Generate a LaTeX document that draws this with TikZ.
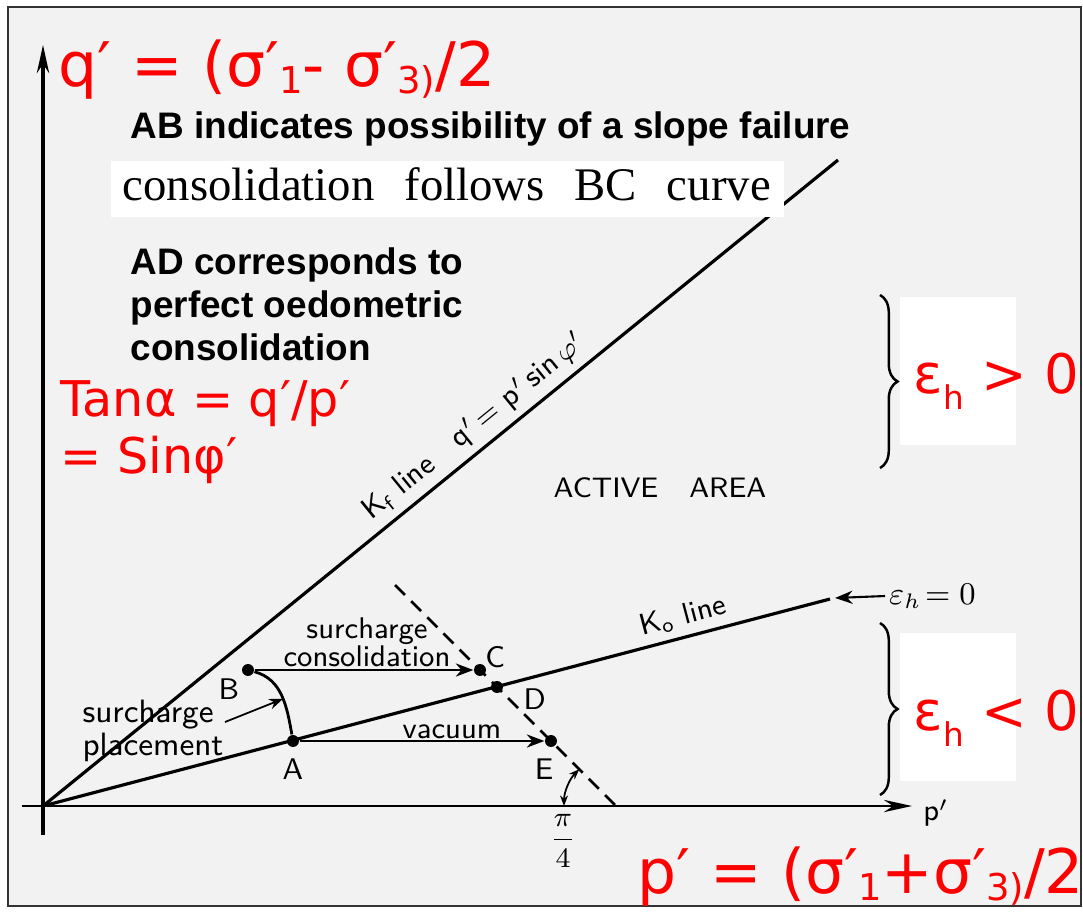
\documentclass[tikz,border=0pt]{standalone}
\usepackage{fontspec}
\usepackage{amsmath}
\newfontfamily\slidefont{Liberation Sans}
\newfontfamily\redfont{DejaVu Sans}
\newfontfamily\scanserif{Liberation Serif}
\usetikzlibrary{arrows.meta, positioning, calc, decorations.pathreplacing}
\newcommand{\dropsub}[2]{\raisebox{-#1}{\scalebox{0.6}{#2}}}

\begin{document}
\begin{tikzpicture}[
    hand/.style={font=\sffamily\fontsize{8.5}{8}\selectfont, inner sep=1pt},
    pt/.style={circle, fill, minimum size=3.4pt, inner sep=0pt},
    redbig/.style={text=red, font=\redfont\fontsize{17.5}{20}\selectfont, inner sep=0pt},
    redmid/.style={text=red, font=\redfont\fontsize{14}{16}\selectfont, inner sep=0pt},
    note/.style={font=\slidefont\bfseries\fontsize{10.5}{12.3}\selectfont, inner sep=0pt},
    blank/.style={fill=white, inner sep=0pt},
    axis/.style={line width=0.9pt, -{Stealth[length=8pt, width=3.5pt]}}
  ]
  \useasboundingbox (0,0) rectangle (10.83,9.11);
  \filldraw[fill=black!5, draw=black!80, line width=0.6pt] (0.08,0.05) rectangle (10.81,9.04);

  % Axes
  \coordinate (O) at (0.43,1.05);
  \coordinate (qtop) at (0.43,8.66);
  \coordinate (qbot) at (0.43,0.76);
  \coordinate (pleft) at (0.22,1.05);
  \coordinate (pend) at (9.12,1.05);
  \draw[axis] (qbot) -- (qtop);
  \draw[axis, line width=0.7pt] (pleft) -- (pend);
  \node[hand] (plbl) at (9.36,0.98) {p$'$};

  % Kf and Ko lines
  \coordinate (kf) at (8.38,7.51);
  \coordinate (ko) at (8.30,3.12);
  \draw[line width=0.9pt] (O) -- node[hand, pos=0.56, sloped, above=1pt] (kflbl) {K\textsubscript{f} line\quad q$'$\,= p$'$\,sin\,$\varphi'$} (kf);
  \draw[line width=0.9pt] (O) -- node[hand, pos=0.82, sloped, above=1pt] (kolbl) {K\textsubscript{o} line} (ko);
  \node[hand, anchor=west, font=\sffamily\fontsize{9}{9}\selectfont] (ezlbl) at (8.85,3.15) {$\varepsilon_h\!=0$};
  \coordinate (kotip) at (8.35,3.13);
  \draw[-{Stealth[length=5pt]}, line width=0.6pt] (ezlbl.west) -- (kotip);

  % Stress paths
  \node[pt] (A) at (2.93,1.70) {};
  \node[pt] (B) at (2.48,2.41) {};
  \node[pt] (C) at (4.80,2.41) {};
  \node[pt] (D) at (4.97,2.24) {};
  \node[pt] (E) at (5.51,1.70) {};
  \node[hand, below left=0pt of B] (Blbl) {B};
  \node[hand, below=2pt of A] (Albl) {A};
  \node[hand, above right=-2pt and -1pt of C] (Clbl) {C};
  \node[hand, below right=-2pt and 5pt of D] (Dlbl) {D};
  \node[hand, below=2pt of E, xshift=-2pt] (Elbl) {E};

  \coordinate (dtop) at (3.95,3.26);
  \coordinate (dbot) at (6.16,1.05);
  \draw[line width=0.8pt, dash pattern=on 4pt off 2.5pt] (dtop) -- (dbot);
  \draw[-{Stealth[length=5pt]}, line width=0.5pt] (B) -- (C);
  \draw[-{Stealth[length=5pt]}, line width=0.5pt] (A) -- (E);
  \draw[line width=0.8pt] (B) to[out=-15, in=100] coordinate[pos=0.55] (bend) (A);

  \node[hand, align=center] (surcons) at (3.67,2.69) {surcharge\\consolidation};
  \node[hand] (vac) at (4.52,1.79) {vacuum};
  \node[hand, align=left, font=\sffamily\fontsize{9.2}{8.2}\selectfont] (surplace) at (1.53,1.80) {surcharge\\placement};
  \coordinate (lead) at (2.25,1.89);
  \draw[-{Stealth[length=4pt]}, line width=0.5pt] (lead) -- (bend);
  \node[hand, font=\sffamily\fontsize{8}{8}\selectfont] (active) at (6.60,4.23) {ACTIVE\hspace{1.1em}AREA};

  % angle pi/4
  \draw[{Stealth[length=3pt]}-{Stealth[length=3pt]}, line width=0.5pt] ([shift={(180:0.52)}]dbot) arc[start angle=180, end angle=135, radius=0.52];
  \node[hand, font=\fontsize{8}{9}\selectfont] (quarter) at (5.63,0.70) {$\dfrac{\pi}{4}$};

  % Braces
  \draw[decorate, decoration={brace, amplitude=5pt}, line width=0.7pt] (8.80,6.16) -- (8.80,4.43);
  \draw[decorate, decoration={brace, amplitude=5pt}, line width=0.7pt] (8.80,2.88) -- (8.80,1.16);

  % Slide notes
  \node[blank, minimum width=1.16cm, minimum height=1.48cm] (gtbox) at (9.58,5.40) {};
  \node[blank, minimum width=1.16cm, minimum height=1.48cm] (ltbox) at (9.58,2.04) {};
  \node[redmid, anchor=base west, font=\redfont\fontsize{15.5}{18}\selectfont] (gt) at (9.13,5.18) {ε\dropsub{4.7pt}{h} > 0};
  \node[redmid, anchor=base west, font=\redfont\fontsize{15.5}{18}\selectfont] (lt) at (9.13,1.81) {ε\dropsub{4.7pt}{h} < 0};

  \node[redbig, anchor=base west] (qeq) at (0.58,8.25) {q′ = (σ′\dropsub{2pt}{1}- σ′\dropsub{2pt}{3)}/2};
  \node[redbig, anchor=base west] (peq) at (6.37,0.18) {p′ = (σ′\dropsub{2pt}{1}+σ′\dropsub{2pt}{3)}/2};
  \node[redmid, anchor=base west] (tana) at (0.60,4.95) {Tanα = q′/p′};
  \node[redmid, anchor=base west] (sinphi) at (0.60,4.38) {= Sinφ′};

  \node[note, anchor=base west] (ab) at (1.30,7.73) {AB indicates possibility of a slope failure};
  \node[blank, anchor=north west, minimum width=6.73cm, minimum height=0.56cm] (bcbox) at (1.10,7.51) {};
  \node[anchor=base west, inner sep=0pt, font=\scanserif\fontsize{13.3}{15}\selectfont] (bc) at (1.22,7.11) {consolidation\hspace{0.64em}follows\hspace{0.64em}BC\hspace{0.64em}curve};
  \node[note, anchor=north west, align=left] (ad) at (1.30,6.64) {AD corresponds to\\perfect oedometric\\consolidation};
\end{tikzpicture}
\end{document}
